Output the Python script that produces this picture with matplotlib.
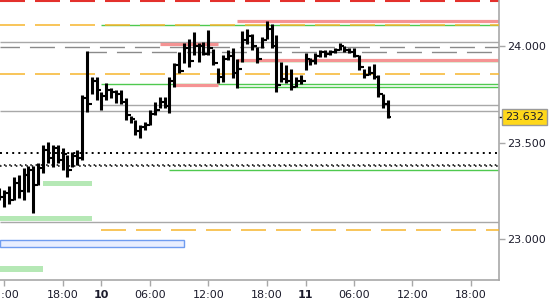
import matplotlib.pyplot as plt
import matplotlib.transforms as mtransforms
from matplotlib.patches import Rectangle

# %%
# 30-minute OHLC bars, x = bar index (0 = 18:00 on the 9th)
bar_idx = list(range(-13, 68))
high = [23.264, 23.254, 23.275, 23.321, 23.332, 23.368, 23.378, 23.378, 23.394, 23.487,
        23.503, 23.487, 23.487, 23.472, 23.435, 23.451, 23.461, 23.746, 23.974, 23.839,
        23.839, 23.762, 23.808, 23.782, 23.772, 23.772, 23.731, 23.637, 23.617, 23.591,
        23.606, 23.668, 23.710, 23.736, 23.736, 23.839, 23.912, 23.969, 24.016, 24.036,
        24.073, 24.016, 24.021, 24.083, 23.984, 23.886, 23.953, 23.979, 23.990, 23.933,
        24.078, 24.088, 24.062, 23.995, 24.047, 24.130, 24.114, 24.057, 23.917, 23.902,
        23.881, 23.839, 23.850, 23.964, 23.938, 23.964, 23.979, 23.979, 23.979, 23.990,
        24.016, 24.000, 23.990, 23.990, 23.953, 23.881, 23.896, 23.907, 23.850, 23.751,
        23.720]
low = [23.202, 23.166, 23.181, 23.202, 23.212, 23.202, 23.243, 23.135, 23.280, 23.340,
       23.394, 23.373, 23.394, 23.357, 23.321, 23.373, 23.383, 23.409, 23.658, 23.751,
       23.720, 23.668, 23.720, 23.731, 23.705, 23.699, 23.617, 23.601, 23.539, 23.523,
       23.565, 23.591, 23.642, 23.679, 23.679, 23.653, 23.788, 23.860, 23.912, 23.891,
       23.953, 23.917, 23.953, 23.953, 23.902, 23.808, 23.813, 23.927, 23.834, 23.782,
       23.917, 24.010, 23.979, 23.912, 23.990, 24.036, 23.990, 23.762, 23.813, 23.808,
       23.772, 23.788, 23.803, 23.876, 23.902, 23.907, 23.943, 23.943, 23.953, 23.964,
       23.979, 23.969, 23.964, 23.943, 23.876, 23.834, 23.850, 23.829, 23.736, 23.679,
       23.627]
close = [23.220, 23.240, 23.200, 23.290, 23.250, 23.330, 23.360, 23.280, 23.370, 23.460,
         23.420, 23.470, 23.410, 23.440, 23.360, 23.430, 23.420, 23.730, 23.700, 23.820,
         23.770, 23.740, 23.770, 23.760, 23.750, 23.710, 23.640, 23.620, 23.560, 23.580,
         23.590, 23.650, 23.670, 23.710, 23.690, 23.820, 23.900, 23.870, 23.990, 23.920,
         24.000, 24.000, 23.960, 23.990, 23.910, 23.840, 23.930, 23.950, 23.860, 23.880,
         24.030, 24.050, 24.000, 23.930, 24.030, 24.090, 24.000, 23.800, 23.830, 23.820,
         23.790, 23.820, 23.820, 23.930, 23.920, 23.950, 23.970, 23.960, 23.970, 23.980,
         24.000, 23.980, 23.970, 23.950, 23.890, 23.850, 23.860, 23.840, 23.750, 23.700,
         23.632]
last_price = 23.632

time_ticks = [-12, 0, 8, 18, 30, 42, 50, 60, 72, 84]
time_labels = ["12:00", "18:00", "10", "06:00", "12:00", "18:00", "11", "06:00", "12:00", "18:00"]
price_ticks = [23.0, 23.5, 24.0]

# levels: (price, start bar, end bar)
red_dashed = 24.233
pink_levels = [(24.127, 36, None), (24.008, 20, 32), (23.927, 36, None), (23.796, 23, 32)]
green_levels = [(24.109, 8, None), (23.920, 36, None), (23.803, 8, None),
                (23.786, 36, None), (23.357, 22, None)]
orange_levels = [(24.109, None), (23.855, None), (23.047, 8)]
gray_solid = [(24.018, None), (23.693, 8), (23.663, None), (23.088, None)]
gray_dashed = [(23.993, None), (23.967, 5)]
dotted_levels = [23.446]
green_zones = [(23.275, 23.300, -4, 6), (23.093, 23.119, None, 6), (22.832, 22.858, None, -4)]
blue_zone = (22.960, 22.996, 25)

# %%
plt.rcParams["lines.scale_dashes"] = False
fig = plt.figure(figsize=(5.5, 3), dpi=100)
ax = fig.add_axes([0, 20 / 300, 499 / 550, 280 / 300])
xmin, xmax = -12.86, 89.8
ax.set_xlim(xmin, xmax)
ax.set_ylim(22.788, 24.238)


def seg(y, x0, x1, **kw):
    ax.hlines(y, xmin if x0 is None else x0, xmax if x1 is None else x1, **kw)


seg(red_dashed, None, None, color="#e3302c", lw=1.5, linestyles=[(0, (18, 7.2))], zorder=2)
for y, a in gray_solid:
    seg(y, a, None, color="#a8a8a8", lw=1.0, zorder=2)
for y, a in gray_dashed:
    seg(y, a, None, color="#8a8a8a", lw=1.0, linestyles=[(4, (18, 7.2))], zorder=2)
for y, a, b in green_levels:
    seg(y, a, b, color="#4fc94f", lw=1.0, zorder=2)
for y, a in orange_levels:
    seg(y, a, None, color="#f7b52c", lw=1.1, linestyles=[(0, (18, 7.2))], zorder=3)
for y, a, b in pink_levels:
    seg(y, a, b, color="#f59393", lw=2.3, zorder=2)
for y in dotted_levels:
    seg(y, None, None, color="black", lw=1.4, linestyles=[(0, (1.4, 3.0))], zorder=3)
# double dotted line
seg(23.385, None, None, color="black", lw=1.1, linestyles=[(1.0, (1.1, 2.7))], zorder=3)
seg(23.377, None, None, color="black", lw=1.1, linestyles=[(0, (1.1, 2.7))], zorder=3)

for lo, hi, a, b in green_zones:
    x0 = xmin if a is None else a
    ax.add_patch(Rectangle((x0, lo), b - x0, hi - lo, fc="#b5e8b5", ec="none", zorder=1))
lo, hi, b = blue_zone
ax.add_patch(Rectangle((xmin, lo), b - xmin, hi - lo, fc="#e8eeff", ec="#6f9cf0", lw=1.0, zorder=1))

# bars
opens = [close[0]] + close[:-1]
ax.vlines(bar_idx, low, high, color="black", lw=2.2, zorder=5)
ax.hlines(opens, [k - 0.6 for k in bar_idx], bar_idx, color="black", lw=1.5, zorder=5)
ax.hlines(close, bar_idx, [k + 0.6 for k in bar_idx], color="black", lw=1.5, zorder=5)

# axes styling
for s in ["top", "left"]:
    ax.spines[s].set_visible(False)
for s in ["right", "bottom"]:
    ax.spines[s].set_color("#a8a8a8")
    ax.spines[s].set_linewidth(1.2)
ax.yaxis.tick_right()
ax.set_yticks(price_ticks)
ax.set_yticklabels([f"{p:.3f}" for p in price_ticks])
ax.set_xticks(time_ticks)
ax.set_xticklabels(time_labels)
ax.tick_params(axis="both", colors="#a8a8a8", labelcolor="#1c1c2c", labelsize=8, length=4, width=1)
ax.tick_params(axis="y", pad=2)
ax.tick_params(axis="x", pad=3)
for lbl in ax.get_xticklabels():
    if lbl.get_text() in ("10", "11"):
        lbl.set_fontweight("bold")

trans = mtransforms.blended_transform_factory(ax.transAxes, ax.transData)
ax.plot([1.0, 1.008], [last_price, last_price], color="black", lw=1, transform=trans, clip_on=False)
ax.text(1.012, last_price, f"{last_price:.3f}", transform=trans, ha="left", va="center",
        fontsize=8, color="#1c1c2c",
        bbox=dict(boxstyle="square,pad=0.3", fc="#ffd81a", ec="#9a9a9a", lw=1))

fig.savefig("out.png", dpi=100)
